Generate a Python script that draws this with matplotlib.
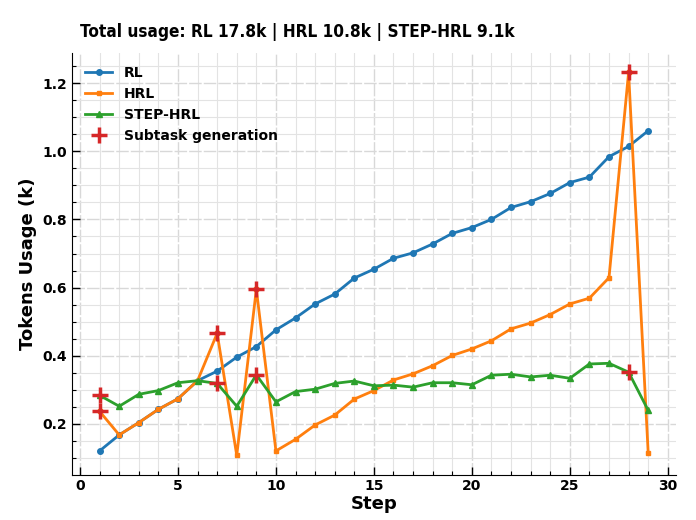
import matplotlib
matplotlib.use("Agg")
import matplotlib.pyplot as plt
from matplotlib.ticker import MultipleLocator

# Data (tokens in thousands)
steps = list(range(1, 30))

rl = [0.121, 0.168, 0.204, 0.243, 0.274, 0.327, 0.355, 0.396, 0.427, 0.476,
      0.511, 0.552, 0.581, 0.628, 0.654, 0.686, 0.702, 0.728, 0.759, 0.776,
      0.800, 0.835, 0.852, 0.876, 0.908, 0.924, 0.984, 1.014, 1.060]

hrl = [0.237, 0.168, 0.204, 0.243, 0.274, 0.327, 0.466, 0.108, 0.595, 0.121,
       0.155, 0.197, 0.226, 0.273, 0.298, 0.329, 0.347, 0.371, 0.401, 0.420,
       0.444, 0.479, 0.496, 0.521, 0.552, 0.569, 0.629, 1.231, 0.116]

step_hrl = [0.284, 0.252, 0.287, 0.298, 0.321, 0.327, 0.319, 0.252, 0.344, 0.265,
            0.295, 0.302, 0.319, 0.326, 0.312, 0.314, 0.308, 0.321, 0.321, 0.315,
            0.343, 0.346, 0.338, 0.343, 0.334, 0.376, 0.378, 0.352, 0.240]

# steps where a subtask was generated (marked on HRL and STEP-HRL curves)
subtask_steps = [1, 7, 9, 28]

title_text = "Total usage: RL 17.8k | HRL 10.8k | STEP-HRL 9.1k"

fig = plt.figure(figsize=(6.96, 5.2), dpi=100)
ax = fig.add_axes([0.1037, 0.0875, 0.867, 0.81])

ax.plot(steps, rl, color='#1f77b4', marker='o', markersize=4, linewidth=2, label='RL')
ax.plot(steps, hrl, color='#ff7f0e', marker='s', markersize=3.5, linewidth=2, label='HRL')
ax.plot(steps, step_hrl, color='#2ca02c', marker='^', markersize=4, linewidth=2, label='STEP-HRL')

sub_x = []
sub_y = []
for s in subtask_steps:
    i = steps.index(s)
    sub_x += [s, s]
    sub_y += [hrl[i], step_hrl[i]]
ax.plot(sub_x, sub_y, linestyle='none', marker='+', markersize=12, markeredgewidth=2.5,
        color='#d62728', label='Subtask generation', zorder=5)

ax.xaxis.set_major_locator(MultipleLocator(5))
ax.xaxis.set_minor_locator(MultipleLocator(1))
ax.yaxis.set_major_locator(MultipleLocator(0.2))
ax.yaxis.set_minor_locator(MultipleLocator(0.05))

ax.grid(which='major', color='#d8d8d8', linewidth=1.0, linestyle=(0, (9, 1.5)))
ax.grid(which='minor', color='#e3e3e3', linewidth=0.8)
ax.set_axisbelow(True)

ax.spines['top'].set_visible(False)
ax.spines['right'].set_visible(False)
ax.tick_params(which='major', direction='in', length=6, width=1, labelsize=10)
ax.tick_params(which='minor', direction='in', length=3, width=0.8)
for lab in ax.get_xticklabels() + ax.get_yticklabels():
    lab.set_fontweight('bold')

ax.set_xlabel('Step', fontsize=13, fontweight='bold', labelpad=1)
ax.set_ylabel('Tokens Usage (k)', fontsize=13, fontweight='bold')

leg = ax.legend(loc='upper left', frameon=False, prop={'weight': 'bold', 'size': 10})

fig.text(80 / 696, 1 - 32 / 520, title_text, fontsize=12.3, fontweight='bold',
         fontstretch='condensed', va='center', ha='left')

fig.savefig('out.png', dpi=100)
